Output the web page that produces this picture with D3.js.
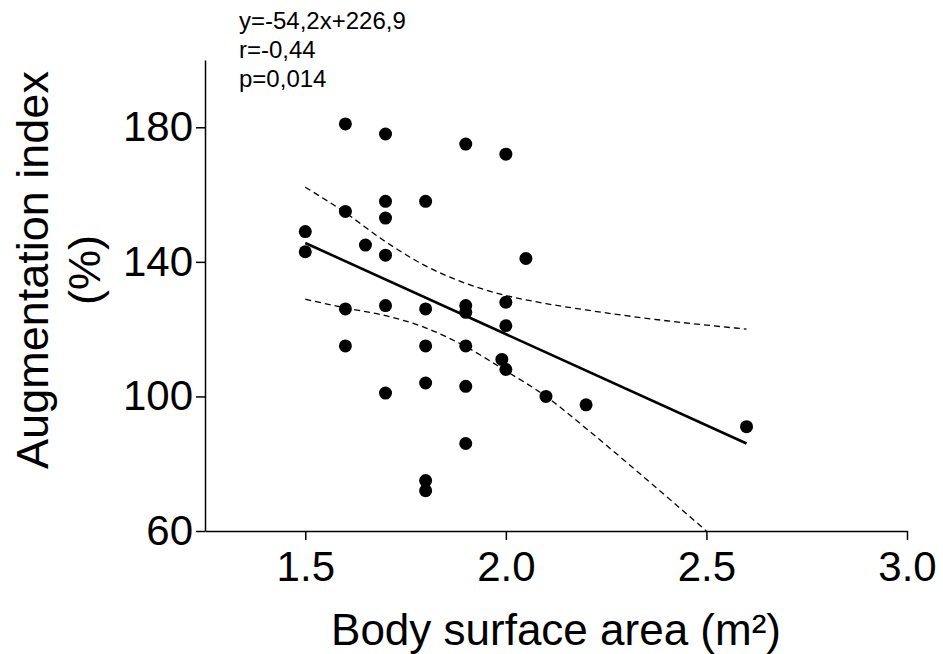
<!DOCTYPE html>
<html>
<head>
<meta charset="utf-8">
<script src="https://cdn.jsdelivr.net/npm/d3@7"></script>
<style>
  body { margin: 0; background: #fff; }
  svg { display: block; font-family: Arial, "Liberation Sans", Helvetica, sans-serif; }
  .axis path, .axis line { stroke: #000; stroke-width: 1.5px; }
  .axis text { font-size: 42px; fill: #000; }
</style>
</head>
<body>
<div id="chart"></div>
<script>
// body surface area (m2) and augmentation index (%) per subject
var bsa = [1.6, 1.7, 1.9, 2.0, 1.8, 1.7, 1.6, 1.7, 1.5, 1.65, 1.5, 1.7, 2.05, 2.0, 1.9, 1.9, 1.7,
           1.6, 1.8, 2.0, 1.6, 1.8, 1.9, 1.99, 2.0, 1.8, 1.9, 1.7, 2.1, 2.2, 1.9, 1.8, 1.8, 2.6];
var aix = [181, 178, 175, 172, 158, 158, 155, 153, 149, 145, 143, 142, 141, 128, 127, 125, 127,
           126, 126, 121, 115, 115, 115, 111, 108, 104, 103, 101, 100, 97.5, 86, 75, 72, 91];

// regression line ends
var fitX = [1.5, 2.6];
var fitY = [145.6, 86.0];

// 95% confidence band
var bandX = [1.5, 1.6, 1.7, 1.8, 1.9, 2.0, 2.1, 2.2, 2.3, 2.4, 2.5, 2.6];
var bandUpper = [162.2, 154.6, 146.0, 138.8, 133.6, 130.0, 127.6, 125.7, 124.0, 122.5, 121.2, 120.0];
var bandLower = [128.9, 126.3, 124.0, 120.4, 114.8, 107.6, 100.0, 90.5, 80.5, 70.3, 60.0];

var xTicks = [1.5, 2.0, 2.5, 3.0];
var yTicks = [60, 100, 140, 180];
var statLines = ['y=-54,2x+226,9', 'r=-0,44', 'p=0,014'];

var width = 943, height = 654;

var svg = d3.select('#chart').append('svg')
    .attr('width', width)
    .attr('height', height);

var x = d3.scaleLinear().domain([1.25, 3.0]).range([205, 907]);
var y = d3.scaleLinear().domain([60, 200]).range([531, 60]);

svg.append('g')
    .attr('class', 'axis')
    .attr('transform', 'translate(0,' + y(60) + ')')
    .call(d3.axisBottom(x).tickValues(xTicks).tickFormat(d3.format('.1f'))
        .tickSize(9).tickSizeOuter(0).tickPadding(11));

svg.append('g')
    .attr('class', 'axis')
    .attr('transform', 'translate(' + x(1.25) + ',0)')
    .call(d3.axisLeft(y).tickValues(yTicks)
        .tickSize(9).tickSizeOuter(0).tickPadding(3));

// drop d3's default axis font so the svg font applies
svg.selectAll('.axis').attr('font-family', null).attr('font-size', null);

// confidence band
var line = d3.line()
    .x(d => x(d[0]))
    .y(d => y(d[1]))
    .curve(d3.curveMonotoneX);

[bandUpper, bandLower].forEach(vals => {
    svg.append('path')
        .datum(vals.map((v, i) => [bandX[i], v]))
        .attr('d', line)
        .attr('fill', 'none')
        .attr('stroke', '#000')
        .attr('stroke-width', 1.3)
        .attr('stroke-dasharray', '6,4');
});

// fit
svg.append('path')
    .datum(fitX.map((v, i) => [v, fitY[i]]))
    .attr('d', d3.line().x(d => x(d[0])).y(d => y(d[1])))
    .attr('stroke', '#000')
    .attr('stroke-width', 2.6);

svg.selectAll('circle.pt')
    .data(bsa.map((v, i) => [v, aix[i]]))
    .enter().append('circle')
    .attr('class', 'pt')
    .attr('cx', d => x(d[0]))
    .attr('cy', d => y(d[1]))
    .attr('r', 6.5)
    .attr('fill', '#000');

// stats text
svg.append('g').selectAll('text')
    .data(statLines)
    .enter().append('text')
    .attr('x', 239)
    .attr('y', (d, i) => 29 + i * 29)
    .attr('font-size', 24)
    .text(d => d);

// axis titles
svg.append('text')
    .attr('x', (x.range()[0] + x.range()[1]) / 2)
    .attr('y', 645)
    .attr('text-anchor', 'middle')
    .attr('font-size', 44)
    .text('Body surface area (m²)');

var yt = svg.append('text')
    .attr('transform', 'translate(48,270) rotate(-90)')
    .attr('text-anchor', 'middle')
    .attr('font-size', 45);
yt.append('tspan').attr('x', 0).attr('y', 0).text('Augmentation index');
yt.append('tspan').attr('x', 0).attr('y', 0).attr('dy', 52).text('(%)');
</script>
</body>
</html>
